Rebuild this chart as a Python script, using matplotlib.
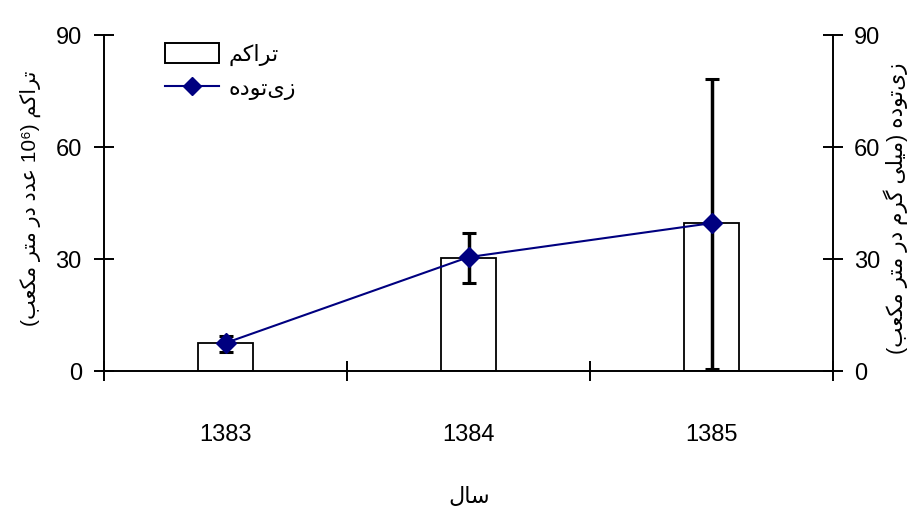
import matplotlib
matplotlib.use("Agg")
import matplotlib.pyplot as plt
from matplotlib.patches import Patch
from matplotlib.lines import Line2D

# ---------------- data ----------------
years = ["1383", "1384", "1385"]
density = [7.5, 30.4, 39.6]            # تراکم (bars, left axis)
biomass = [7.5, 30.5, 39.6]            # زی‌توده (line, right axis)
biomass_err_low = [2.4, 6.8, 39.1]
biomass_err_high = [1.9, 6.4, 38.5]
yticks = [0, 30, 60, 90]

label_density = "تراکم"
label_biomass = "زی\u200cتوده"
xlabel_text = "سال"
ylabel_left = "تراکم (10⁶ عدد در متر مکعب)"
ylabel_right = "زی\u200cتوده (میلی گرم در متر مکعب)"

# ------------- minimal Arabic/Persian shaping + bidi -------------
_FORMS = {
    'ا': ('\uFE8D', '\uFE8E', None, None),
    'ب': ('\uFE8F', '\uFE90', '\uFE91', '\uFE92'),
    'ت': ('\uFE95', '\uFE96', '\uFE97', '\uFE98'),
    'د': ('\uFEA9', '\uFEAA', None, None),
    'ر': ('\uFEAD', '\uFEAE', None, None),
    'ز': ('\uFEAF', '\uFEB0', None, None),
    'س': ('\uFEB1', '\uFEB2', '\uFEB3', '\uFEB4'),
    'ع': ('\uFEC9', '\uFECA', '\uFECB', '\uFECC'),
    'ل': ('\uFEDD', '\uFEDE', '\uFEDF', '\uFEE0'),
    'م': ('\uFEE1', '\uFEE2', '\uFEE3', '\uFEE4'),
    'ه': ('\uFEE9', '\uFEEA', '\uFEEB', '\uFEEC'),
    'و': ('\uFEED', '\uFEEE', None, None),
    'ی': ('\uFBFC', '\uFBFD', '\uFBFE', '\uFBFF'),
    'ک': ('\uFB8E', '\uFB8F', '\uFB90', '\uFB91'),
    'گ': ('\uFB92', '\uFB93', '\uFB94', '\uFB95'),
}
_LTR = set("0123456789⁰¹²³⁴⁵⁶⁷⁸⁹.")
_MIRROR = {'(': ')', ')': '('}


def rtl(s):
    shaped = []
    n = len(s)
    for i, c in enumerate(s):
        f = _FORMS.get(c)
        if f is None:
            if c != '\u200c':
                shaped.append(c)
            continue
        prev = s[i - 1] if i > 0 else ''
        nxt = s[i + 1] if i + 1 < n else ''
        pc = prev in _FORMS and _FORMS[prev][2] is not None
        nc = f[2] is not None and nxt in _FORMS
        if pc and nc:
            shaped.append(f[3])
        elif pc:
            shaped.append(f[1])
        elif nc:
            shaped.append(f[2])
        else:
            shaped.append(f[0])
    runs = []
    for ch in shaped:
        is_ltr = ch in _LTR
        if runs and runs[-1][0] == is_ltr:
            runs[-1][1].append(ch)
        else:
            runs.append([is_ltr, [ch]])
    out = []
    for is_ltr, chars in reversed(runs):
        if is_ltr:
            out.extend(chars)
        else:
            out.extend(_MIRROR.get(c, c) for c in reversed(chars))
    return "".join(out)


FAM = ['Liberation Sans', 'DejaVu Sans']
plt.rcParams['font.family'] = FAM

W, H = 908, 513
fig = plt.figure(figsize=(W / 100, H / 100), dpi=100)
ax = fig.add_axes([104 / W, (H - 371) / H, (833 - 104) / W, (371 - 35) / H])

x = list(range(len(years)))
ax.bar(x, density, width=0.23, facecolor='white', edgecolor='black',
       linewidth=1.3, zorder=2)
ax.errorbar(x, biomass, yerr=[biomass_err_low, biomass_err_high], fmt='none',
            ecolor='black', elinewidth=2.5, capsize=5, capthick=2.2, zorder=3)
ax.plot(x, biomass, color='#000080', linewidth=1.5, marker='D',
        markersize=10, markerfacecolor='#000080', markeredgecolor='#000080',
        zorder=4)

ax.set_xlim(-0.5, 2.5)
ax.set_ylim(0, 90)
ax.set_yticks(yticks)
ax.set_xticks([-0.5, 0.5, 1.5, 2.5])
ax.set_xticklabels([])
ax.set_xticks(x, minor=True)
ax.set_xticklabels(years, minor=True)
ax.tick_params(axis='x', which='major', direction='inout', length=14, width=1.4)
ax.tick_params(axis='x', which='minor', length=0, pad=38, labelsize=17)
ax.tick_params(axis='y', direction='inout', length=14, width=1.4,
               labelsize=17, pad=9)
ax.spines['top'].set_visible(False)
ax.spines['right'].set_visible(False)
for s in ('left', 'bottom'):
    ax.spines[s].set_linewidth(1.4)

ax2 = ax.twinx()
ax2.set_ylim(0, 90)
ax2.set_yticks(yticks)
ax2.tick_params(axis='y', direction='inout', length=14, width=1.4,
                labelsize=17, pad=8)
for s in ('top', 'left', 'bottom'):
    ax2.spines[s].set_visible(False)
ax2.spines['right'].set_linewidth(1.4)

fig.text(30 / W, 1 - 198 / H, rtl(ylabel_left), rotation=90, ha='center',
         va='center', fontsize=15, family=FAM)
fig.text(896 / W, 1 - 208 / H, rtl(ylabel_right), rotation=90, ha='center',
         va='center', fontsize=15.5, family=FAM)
fig.text(469 / W, 1 - 497 / H, rtl(xlabel_text), ha='center', va='center',
         fontsize=16, family=FAM)

handles = [Patch(facecolor='white', edgecolor='black', linewidth=1.4),
           Line2D([], [], color='#000080', linewidth=1.5, marker='D',
                  markersize=9, markerfacecolor='#000080')]
ax2.legend(handles, [rtl(label_density), rtl(label_biomass)],
           loc='upper left', bbox_to_anchor=(152 / W, 1 - 30 / H),
           bbox_transform=fig.transFigure, frameon=False, fontsize=16,
           handlelength=2.4, handleheight=0.95, handletextpad=0.45,
           labelspacing=0.55, borderpad=0.3, borderaxespad=0.3)

fig.savefig("out.png", dpi=100)
